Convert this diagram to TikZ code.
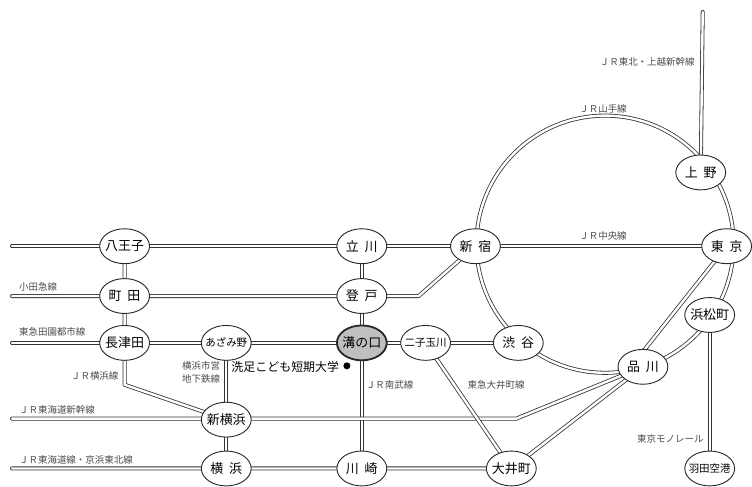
\documentclass[tikz,border=0pt]{standalone}
\usepackage{fontspec}
\setmainfont{Noto Sans CJK JP}
\usetikzlibrary{shapes.geometric,backgrounds,calc}
\newcommand{\sn}[1]{\makebox[0pt][c]{#1}}
\newcommand{\gp}{\hspace{.45em}}
\begin{document}
\begin{tikzpicture}[x=1pt,y=-1pt,
  stn/.style={ellipse,draw=black!85,line width=0.9pt,fill=white,minimum width=50pt,minimum height=35pt,inner sep=0pt,font=\fontsize{13}{13}\selectfont},
  stnf/.style={stn,font=\fontsize{10.5}{10.5}\selectfont},
  hub/.style={stn,fill=black!25,line width=1.8pt},
  rail/.style={draw=black!80,line width=0.8pt,double=white,double distance=2.4pt,line cap=round,line join=round},
  lbl/.style={text=black!70,font=\fontsize{9.5}{13}\selectfont,inner sep=0pt},
]
% stations
\node[stn] (hachioji) at (125,247) {\sn{八王子}};
\node[stn] (tachikawa) at (363,247) {\sn{立\gp 川}};
\node[stn] (shinjuku) at (477,247) {\sn{新\gp 宿}};
\node[stn] (tokyo) at (729,247) {\sn{東\gp 京}};
\node[stn] (ueno) at (703,173) {\sn{上\gp 野}};
\node[stn] (machida) at (125,297) {\sn{町\gp 田}};
\node[stn] (noborito) at (363,297) {\sn{登\gp 戸}};
\node[stn] (nagatsuta) at (125,344) {\sn{長津田}};
\node[stnf] (azamino) at (227,344) {\sn{あざみ野}};
\node[hub] (mizonokuchi) at (363,344) {\sn{溝の口}};
\node[stnf] (futako) at (427,344) {\sn{二子玉川}};
\node[stn] (shibuya) at (520,344) {\sn{渋\gp 谷}};
\node[stn] (hamamatsucho) at (712,316) {\sn{浜松町}};
\node[stn] (shinagawa) at (645,368) {\sn{品\gp 川}};
\node[stn] (shinyoko) at (227,421) {\sn{新横浜}};
\node[stn] (yokohama) at (227,470) {\sn{横\gp 浜}};
\node[stn] (kawasaki) at (363,470) {\sn{川\gp 崎}};
\node[stn] (oimachi) at (513,470) {\sn{大井町}};
\node[stnf] (haneda) at (712,470) {\sn{羽田空港}};
% free ends and bends
\coordinate (chuoW) at (12,247);
\coordinate (odaW) at (12,297);
\coordinate (odaB) at (420,297);
\coordinate (denW) at (12,344);
\coordinate (yokoB) at (125,386);
\coordinate (shinW) at (12,420);
\coordinate (shinB) at (518,420);
\coordinate (tokaW) at (12,470);
\coordinate (tohokuN) at (705,12);
\coordinate (yc) at (607,245);
\coordinate (shinaL) at ($(shinagawa.center)+(-12,0)$);
% labels
\node[lbl,anchor=east] (l1) at (697,62) {ＪＲ東北・上越新幹線};
\node[lbl] (l2) at (605,109) {ＪＲ山手線};
\node[lbl] (l3) at (605,237) {ＪＲ中央線};
\node[lbl,anchor=west] (l4) at (19,288) {小田急線};
\node[lbl,anchor=west] (l5) at (19,333) {東急田園都市線};
\node[lbl,anchor=east] (l6) at (119,377) {ＪＲ横浜線};
\node[lbl,anchor=east,align=center] (l7) at (221,374) {横浜市営\\地下鉄線};
\node[anchor=west,inner sep=0pt,font=\fontsize{12}{12}\selectfont] (univ) at (232,368) {洗足こども短期大学};
\node[circle,fill=black,inner sep=0pt,minimum size=7pt] (univdot) at (348,367) {};
\node[lbl,anchor=west] (l8) at (367,386) {ＪＲ南武線};
\node[lbl,anchor=west] (l9) at (469,386) {東急大井町線};
\node[lbl,anchor=west] (l10) at (19,411) {ＪＲ東海道新幹線};
\node[lbl,anchor=west] (l11) at (19,461) {ＪＲ東海道線・京浜東北線};
\node[lbl,anchor=east] (l12) at (706,440) {東京モノレール};
% rails
\begin{pgfonlayer}{background}
\fill[white] (0,0) rectangle (752,486);
\useasboundingbox (0,0) rectangle (752,486);
\draw[rail] (yc) circle[radius=129pt];
\draw[rail] (chuoW) -- (tokyo.center);
\draw[rail] (odaW) -- (odaB) -- (shinjuku.center);
\draw[rail] (denW) -- (shibuya.center);
\draw[rail] (hachioji.center) -- (nagatsuta.center) -- (yokoB) -- (shinyoko.center);
\draw[rail] (azamino.center) -- (yokohama.center);
\draw[rail] (tachikawa.center) -- (kawasaki.center);
\draw[rail] (shinW) -- (shinB) -- (shinagawa.center);
\draw[rail] (tokaW) -- (oimachi.center) -- (shinagawa.center);
\draw[rail] (shinaL) -- (tokyo.center);
\draw[rail] (futako.center) -- (oimachi.center);
\draw[rail] (hamamatsucho.center) -- (haneda.center);
\draw[rail] (ueno.center) -- (tohokuN);
\end{pgfonlayer}
\end{tikzpicture}
\end{document}
